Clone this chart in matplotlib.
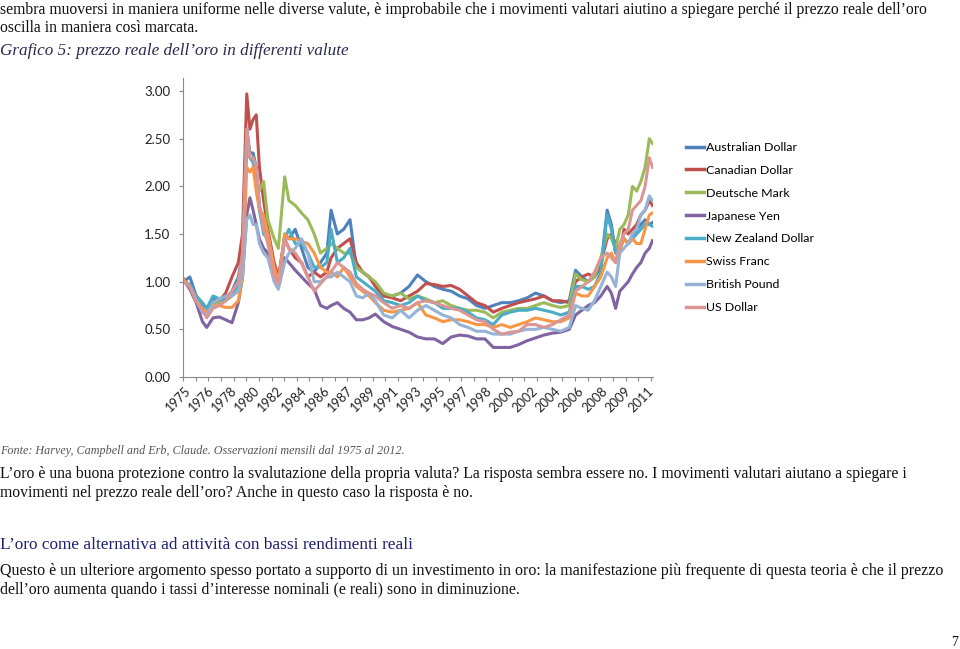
import numpy as np
import matplotlib.pyplot as plt

# ----------------------------------------------------------------------
# Data: real gold price in different currencies (index, 1975 = 1.00)
# x = month index from Jan 1975, values read off the original chart
# ----------------------------------------------------------------------
months = [0, 6, 12, 18, 22, 28, 34, 40, 46, 52,
          56, 60, 63, 66, 69, 72, 76, 80, 86, 90,
          96, 100, 106, 112, 118, 124, 130, 136, 140, 146,
          152, 158, 164, 170, 176, 182, 190, 198, 206, 214,
          222, 230, 238, 246, 254, 262, 270, 278, 286, 294,
          302, 310, 318, 326, 334, 342, 350, 358, 366, 372,
          378, 384, 390, 396, 402, 406, 410, 414, 418, 422,
          426, 430, 434, 438, 442, 445]

aud = [1.00, 1.05, 0.85, 0.75, 0.72, 0.82, 0.80, 0.82, 0.90, 1.05,
       1.30, 2.60, 2.35, 2.35, 2.20, 1.80, 1.60, 1.50, 1.05, 0.98,
       1.50, 1.45, 1.55, 1.35, 1.15, 1.10, 1.20, 1.30, 1.75, 1.50,
       1.55, 1.65, 1.15, 1.10, 1.05, 0.98, 0.85, 0.85, 0.88, 0.95,
       1.07, 1.00, 0.95, 0.92, 0.90, 0.85, 0.82, 0.75, 0.72, 0.75,
       0.78, 0.78, 0.80, 0.83, 0.88, 0.85, 0.80, 0.78, 0.80, 1.12,
       1.05, 1.00, 1.05, 1.15, 1.75, 1.60, 1.30, 1.35, 1.45, 1.40,
       1.45, 1.55, 1.60, 1.65, 1.60, 1.62]

cad = [1.03, 0.95, 0.85, 0.70, 0.65, 0.78, 0.80, 0.88, 1.05, 1.20,
       1.50, 2.97, 2.60, 2.70, 2.75, 2.20, 1.85, 1.55, 1.20, 1.05,
       1.45, 1.35, 1.25, 1.20, 1.05, 1.10, 1.05, 1.10, 1.25, 1.35,
       1.40, 1.45, 1.20, 1.10, 1.05, 0.95, 0.85, 0.83, 0.80, 0.85,
       0.90, 0.98, 0.97, 0.95, 0.96, 0.92, 0.85, 0.78, 0.75, 0.68,
       0.72, 0.75, 0.78, 0.80, 0.82, 0.85, 0.80, 0.80, 0.78, 1.00,
       1.05, 1.08, 1.05, 1.20, 1.45, 1.50, 1.40, 1.30, 1.55, 1.50,
       1.55, 1.60, 1.70, 1.75, 1.85, 1.80]

dem = [1.02, 0.95, 0.85, 0.68, 0.65, 0.75, 0.78, 0.80, 0.85, 1.00,
       1.20, 2.40, 2.30, 2.30, 2.10, 1.95, 2.05, 1.65, 1.45, 1.35,
       2.10, 1.85, 1.80, 1.72, 1.65, 1.50, 1.30, 1.35, 1.40, 1.35,
       1.30, 1.30, 1.15, 1.10, 1.05, 1.00, 0.88, 0.85, 0.88, 0.82,
       0.85, 0.82, 0.78, 0.80, 0.75, 0.72, 0.70, 0.70, 0.68, 0.62,
       0.68, 0.70, 0.72, 0.72, 0.75, 0.78, 0.75, 0.73, 0.75, 1.08,
       1.02, 1.00, 1.05, 1.25, 1.50, 1.45, 1.35, 1.55, 1.60, 1.70,
       2.00, 1.95, 2.05, 2.20, 2.50, 2.45]

jpy = [1.02, 0.92, 0.78, 0.58, 0.52, 0.62, 0.63, 0.60, 0.57, 0.78,
       1.05, 1.70, 1.88, 1.75, 1.60, 1.45, 1.35, 1.30, 1.10, 1.00,
       1.25, 1.20, 1.12, 1.05, 0.98, 0.92, 0.75, 0.72, 0.75, 0.78,
       0.72, 0.68, 0.60, 0.60, 0.62, 0.66, 0.58, 0.53, 0.50, 0.47,
       0.42, 0.40, 0.40, 0.35, 0.42, 0.44, 0.43, 0.40, 0.40, 0.31,
       0.31, 0.31, 0.34, 0.38, 0.41, 0.44, 0.46, 0.47, 0.50, 0.65,
       0.70, 0.75, 0.78, 0.85, 0.95, 0.88, 0.72, 0.90, 0.95, 1.00,
       1.08, 1.15, 1.20, 1.30, 1.35, 1.43]

nzd = [1.00, 0.97, 0.85, 0.78, 0.72, 0.85, 0.82, 0.80, 0.88, 0.95,
       1.20, 2.60, 2.30, 2.25, 2.10, 1.75, 1.50, 1.45, 1.05, 0.95,
       1.45, 1.55, 1.40, 1.40, 1.30, 1.15, 1.15, 1.20, 1.55, 1.20,
       1.25, 1.35, 1.05, 1.00, 0.95, 0.90, 0.80, 0.78, 0.75, 0.78,
       0.85, 0.80, 0.78, 0.72, 0.72, 0.72, 0.68, 0.62, 0.60, 0.55,
       0.65, 0.68, 0.70, 0.70, 0.72, 0.70, 0.68, 0.65, 0.68, 0.95,
       0.95, 0.92, 0.95, 1.10, 1.70, 1.55, 1.30, 1.35, 1.45, 1.40,
       1.45, 1.50, 1.55, 1.60, 1.60, 1.58]

chf = [1.02, 0.95, 0.80, 0.72, 0.68, 0.75, 0.75, 0.73, 0.73, 0.80,
       1.05, 2.20, 2.15, 2.20, 1.95, 1.75, 1.70, 1.50, 1.15, 1.00,
       1.50, 1.45, 1.45, 1.42, 1.40, 1.30, 1.15, 1.10, 1.10, 1.05,
       1.15, 1.05, 0.95, 0.90, 0.85, 0.78, 0.70, 0.68, 0.70, 0.72,
       0.78, 0.65, 0.62, 0.58, 0.60, 0.60, 0.58, 0.55, 0.55, 0.52,
       0.55, 0.52, 0.55, 0.58, 0.62, 0.60, 0.58, 0.58, 0.62, 0.88,
       0.85, 0.85, 0.95, 1.05, 1.25, 1.30, 1.20, 1.35, 1.45, 1.40,
       1.45, 1.40, 1.40, 1.55, 1.70, 1.72]

gbp = [1.00, 0.95, 0.80, 0.68, 0.65, 0.78, 0.82, 0.85, 0.85, 0.90,
       1.10, 1.65, 1.70, 1.60, 1.60, 1.40, 1.30, 1.25, 1.00, 0.92,
       1.20, 1.30, 1.35, 1.45, 1.30, 1.00, 1.00, 1.05, 1.05, 1.10,
       1.05, 1.00, 0.85, 0.83, 0.88, 0.80, 0.65, 0.62, 0.70, 0.62,
       0.70, 0.75, 0.70, 0.65, 0.62, 0.55, 0.52, 0.48, 0.48, 0.45,
       0.45, 0.45, 0.48, 0.50, 0.50, 0.52, 0.50, 0.48, 0.52, 0.75,
       0.72, 0.70, 0.80, 0.95, 1.10, 1.05, 0.95, 1.30, 1.35, 1.40,
       1.50, 1.55, 1.70, 1.75, 1.90, 1.85]

usd = [1.00, 0.95, 0.80, 0.70, 0.62, 0.72, 0.75, 0.80, 0.90, 1.00,
       1.30, 2.60, 2.30, 2.30, 2.20, 1.80, 1.55, 1.40, 1.05, 0.97,
       1.45, 1.35, 1.30, 1.20, 1.05, 0.90, 0.98, 1.05, 1.10, 1.20,
       1.15, 1.10, 0.98, 0.92, 0.88, 0.85, 0.78, 0.72, 0.75, 0.72,
       0.78, 0.80, 0.78, 0.75, 0.72, 0.70, 0.65, 0.60, 0.58, 0.50,
       0.45, 0.47, 0.48, 0.55, 0.55, 0.52, 0.55, 0.60, 0.65, 0.90,
       0.95, 1.00, 1.10, 1.25, 1.30, 1.25, 1.20, 1.40, 1.50, 1.55,
       1.75, 1.80, 1.85, 2.00, 2.30, 2.20]

series_names = ["Australian Dollar", "Canadian Dollar", "Deutsche Mark",
                "Japanese Yen", "New Zealand Dollar", "Swiss Franc",
                "British Pound", "US Dollar"]
series_values = [aud, cad, dem, jpy, nzd, chf, gbp, usd]
series_colors = ["#4F81BD", "#C0504D", "#9BBB59", "#8064A2",
                 "#4BACC6", "#F79646", "#95B3D7", "#DA9694"]

n_months = 446
label_step = 22
label_years = ["1975", "1976", "1978", "1980", "1982", "1984", "1986",
               "1987", "1989", "1991", "1993", "1995", "1997", "1998",
               "2000", "2002", "2004", "2006", "2008", "2009", "2011"]
y_ticks = [0.0, 0.5, 1.0, 1.5, 2.0, 2.5, 3.0]

# ----------------------------------------------------------------------
# Page text
# ----------------------------------------------------------------------
W, H = 960, 649
body_font = "Liberation Serif"
body_size = 11.3
navy = "#1F1F70"

fig = plt.figure(figsize=(W / 100, H / 100), dpi=100)


def put(x, y, s, **kw):
    """Place text using page pixel coordinates (top-left origin)."""
    kw.setdefault("family", body_font)
    kw.setdefault("size", body_size)
    kw.setdefault("color", "#111111")
    fig.text(x / W, 1 - y / H, s, va="center", ha="left", **kw)


put(0, 10, "sembra muoversi in maniera uniforme nelle diverse valute, è improbabile "
           "che i movimenti valutari aiutino a spiegare perché il prezzo reale dell’oro")
put(0, 28, "oscilla in maniera così marcata.")
put(0, 51, "Grafico 5: prezzo reale dell’oro in differenti valute",
    style="italic", color="#2A2A50", size=12.3)
put(0, 451, "Fonte: Harvey, Campbell and Erb, Claude. Osservazioni mensili dal 1975 al 2012.",
    style="italic", color="#555555", size=8.7)
put(0, 474, "L’oro è una buona protezione contro la svalutazione della propria valuta? "
            "La risposta sembra essere no. I movimenti valutari aiutano a spiegare i")
put(0, 493, "movimenti nel prezzo reale dell’oro? Anche in questo caso la risposta è no.")
put(0, 545, "L’oro come alternativa ad attività con bassi rendimenti reali",
    color=navy, size=12.4)
put(0, 571, "Questo è un ulteriore argomento spesso portato a supporto di un investimento "
            "in oro: la manifestazione più frequente di questa teoria è che il prezzo",
    size=11.5)
put(0, 590, "dell’oro aumenta quando i tassi d’interesse nominali (e reali) sono in diminuzione.")
put(951, 642, "7", size=10)

# ----------------------------------------------------------------------
# Chart
# ----------------------------------------------------------------------
ax_l, ax_r, ax_t, ax_b = 183, 653, 78, 377
ax = fig.add_axes([ax_l / W, 1 - ax_b / H, (ax_r - ax_l) / W, (ax_b - ax_t) / H])

for name, vals, col in zip(series_names, series_values, series_colors):
    ax.plot(months, vals, color=col, linewidth=2.2, label=name,
            solid_joinstyle="round")

ax.set_xlim(-0.5, n_months - 0.5)
ax.set_ylim(0, 3.0 * (ax_b - ax_t) / (ax_b - 91))

ax.set_yticks(y_ticks)
ax.set_yticklabels([f"{v:.2f}" for v in y_ticks])
ax.set_xticks(np.arange(len(label_years)) * label_step)
ax.set_xticklabels(label_years, rotation=45, ha="right", va="top",
                   rotation_mode="anchor")
ax.set_xticks(np.arange(-0.5, n_months, 12), minor=True)

for lab in ax.get_xticklabels() + ax.get_yticklabels():
    lab.set_family("Lato")
    lab.set_color("#222222")
for lab in ax.get_yticklabels():
    lab.set_fontsize(9.5)
for lab in ax.get_xticklabels():
    lab.set_fontsize(9.2)

ax.tick_params(axis="x", which="major", length=0, pad=6)
ax.tick_params(axis="x", which="minor", length=3, color="#888888", width=0.8)
ax.tick_params(axis="y", length=3, color="#888888", width=0.8, pad=6)

for side in ("top", "right"):
    ax.spines[side].set_visible(False)
for side in ("left", "bottom"):
    ax.spines[side].set_color("#888888")
    ax.spines[side].set_linewidth(0.8)

leg = ax.legend(loc="upper left", bbox_to_anchor=(681 / W, 1 - 137 / H),
                bbox_transform=fig.transFigure, frameon=False,
                handlelength=1.45, handletextpad=0.2, labelspacing=0.96,
                borderaxespad=0, prop={"family": "Lato", "size": 8.9})
for line in leg.get_lines():
    line.set_linewidth(2.5)

fig.savefig("out.png", dpi=100)
